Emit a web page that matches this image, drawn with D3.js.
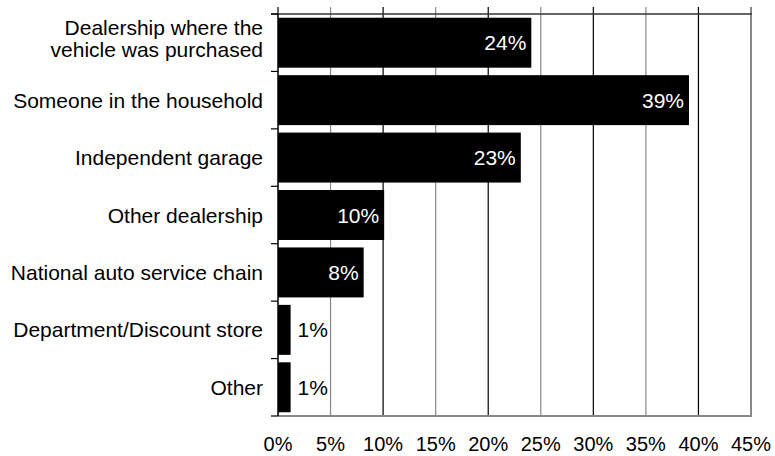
<!DOCTYPE html>
<html>
<head>
<meta charset="utf-8">
<script src="https://cdn.jsdelivr.net/npm/d3@7"></script>
<style>
  body { margin: 0; background: #fff; }
  text { font-family: Helvetica, Arial, "Liberation Sans", sans-serif; }
</style>
</head>
<body>
<div id="chart"></div>
<script>
// chart data
const categories = [
  "Dealership where the\nvehicle was purchased",
  "Someone in the household",
  "Independent garage",
  "Other dealership",
  "National auto service chain",
  "Department/Discount store",
  "Other"
]
const values = [24.1, 39.1, 23.1, 10.1, 8.15, 1.2, 1.2]
const valueLabels = ["24%", "39%", "23%", "10%", "8%", "1%", "1%"]
const xTicks = [0, 5, 10, 15, 20, 25, 30, 35, 40, 45]

const width = 775,
  height = 456

const svg = d3.select("#chart").append("svg").attr("width", width).attr("height", height)

const x = d3.scaleLinear().domain([0, 45]).range([278, 751])
const y = d3.scaleBand().domain(categories).range([14, 416]).paddingInner(0.13).paddingOuter(0.065)

// vertical grid lines, alternating grey / black
svg
  .selectAll(".grid")
  .data(xTicks.filter((d) => d > 0))
  .enter()
  .append("line")
  .attr("x1", (d) => x(d))
  .attr("x2", (d) => x(d))
  .attr("y1", 7)
  .attr("y2", 416)
  .style("stroke", (d) => (d % 10 === 0 ? "#000" : "#888"))
  .style("stroke-width", (d) => (d === 45 ? 2 : 1.2))

// top axis line
svg.append("line").attr("x1", 271).attr("x2", 752).attr("y1", 14).attr("y2", 14).style("stroke", "#333").style("stroke-width", 1.5)
svg.append("line").attr("x1", x(0)).attr("x2", x(0)).attr("y1", 7).attr("y2", 14).style("stroke", "#000").style("stroke-width", 1.2)

// bottom border
svg.append("line").attr("x1", 278).attr("x2", 752).attr("y1", 416).attr("y2", 416).style("stroke", "#888").style("stroke-width", 2)

// bars
svg
  .selectAll(".bar")
  .data(categories)
  .enter()
  .append("rect")
  .attr("x", x(0))
  .attr("y", (d) => y(d))
  .attr("width", (d, i) => x(values[i]) - x(0))
  .attr("height", y.bandwidth())
  .style("fill", "#000")

// left axis with ticks between bands
const bounds = categories.map((d) => y(d) - (y.step() * y.paddingInner()) / 2)
bounds.push(416)
svg.append("line").attr("x1", x(0)).attr("x2", x(0)).attr("y1", 14).attr("y2", 416).style("stroke", "#000").style("stroke-width", 1.5)
svg
  .selectAll(".ytick")
  .data(bounds)
  .enter()
  .append("line")
  .attr("x1", 271)
  .attr("x2", x(0))
  .attr("y1", (d) => d)
  .attr("y2", (d) => d)
  .style("stroke", "#000")
  .style("stroke-width", 1.2)

// category labels
const catLabel = svg
  .selectAll(".cat")
  .data(categories)
  .enter()
  .append("text")
  .attr("text-anchor", "end")
  .style("font-size", "21px")
  .style("fill", "#000")
catLabel.each(function (d) {
  const lines = d.split("\n")
  const lh = 22
  // two-line label sits a little high in its band
  const cy = y(d) + y.bandwidth() / 2 - (lines.length > 1 ? 4 : 0)
  lines.forEach((t, j) => {
    d3.select(this)
      .append("tspan")
      .attr("x", 263)
      .attr("y", cy - ((lines.length - 1) * lh) / 2 + j * lh)
      .attr("dy", "0.36em")
      .text(t)
  })
})

// value labels
svg
  .selectAll(".val")
  .data(categories)
  .enter()
  .append("text")
  .attr("x", (d, i) => (values[i] > 5 ? x(values[i]) - 5 : x(values[i]) + 7))
  .attr("y", (d) => y(d) + y.bandwidth() / 2)
  .attr("dy", "0.36em")
  .attr("text-anchor", (d, i) => (values[i] > 5 ? "end" : "start"))
  .style("font-size", "21px")
  .style("fill", (d, i) => (values[i] > 5 ? "#fff" : "#000"))
  .text((d, i) => valueLabels[i])

// bottom tick labels
svg
  .selectAll(".xlab")
  .data(xTicks)
  .enter()
  .append("text")
  .attr("x", (d) => x(d))
  .attr("y", 451)
  .attr("text-anchor", "middle")
  .style("font-size", "20px")
  .style("fill", "#000")
  .text((d) => d + "%")
</script>
</body>
</html>
